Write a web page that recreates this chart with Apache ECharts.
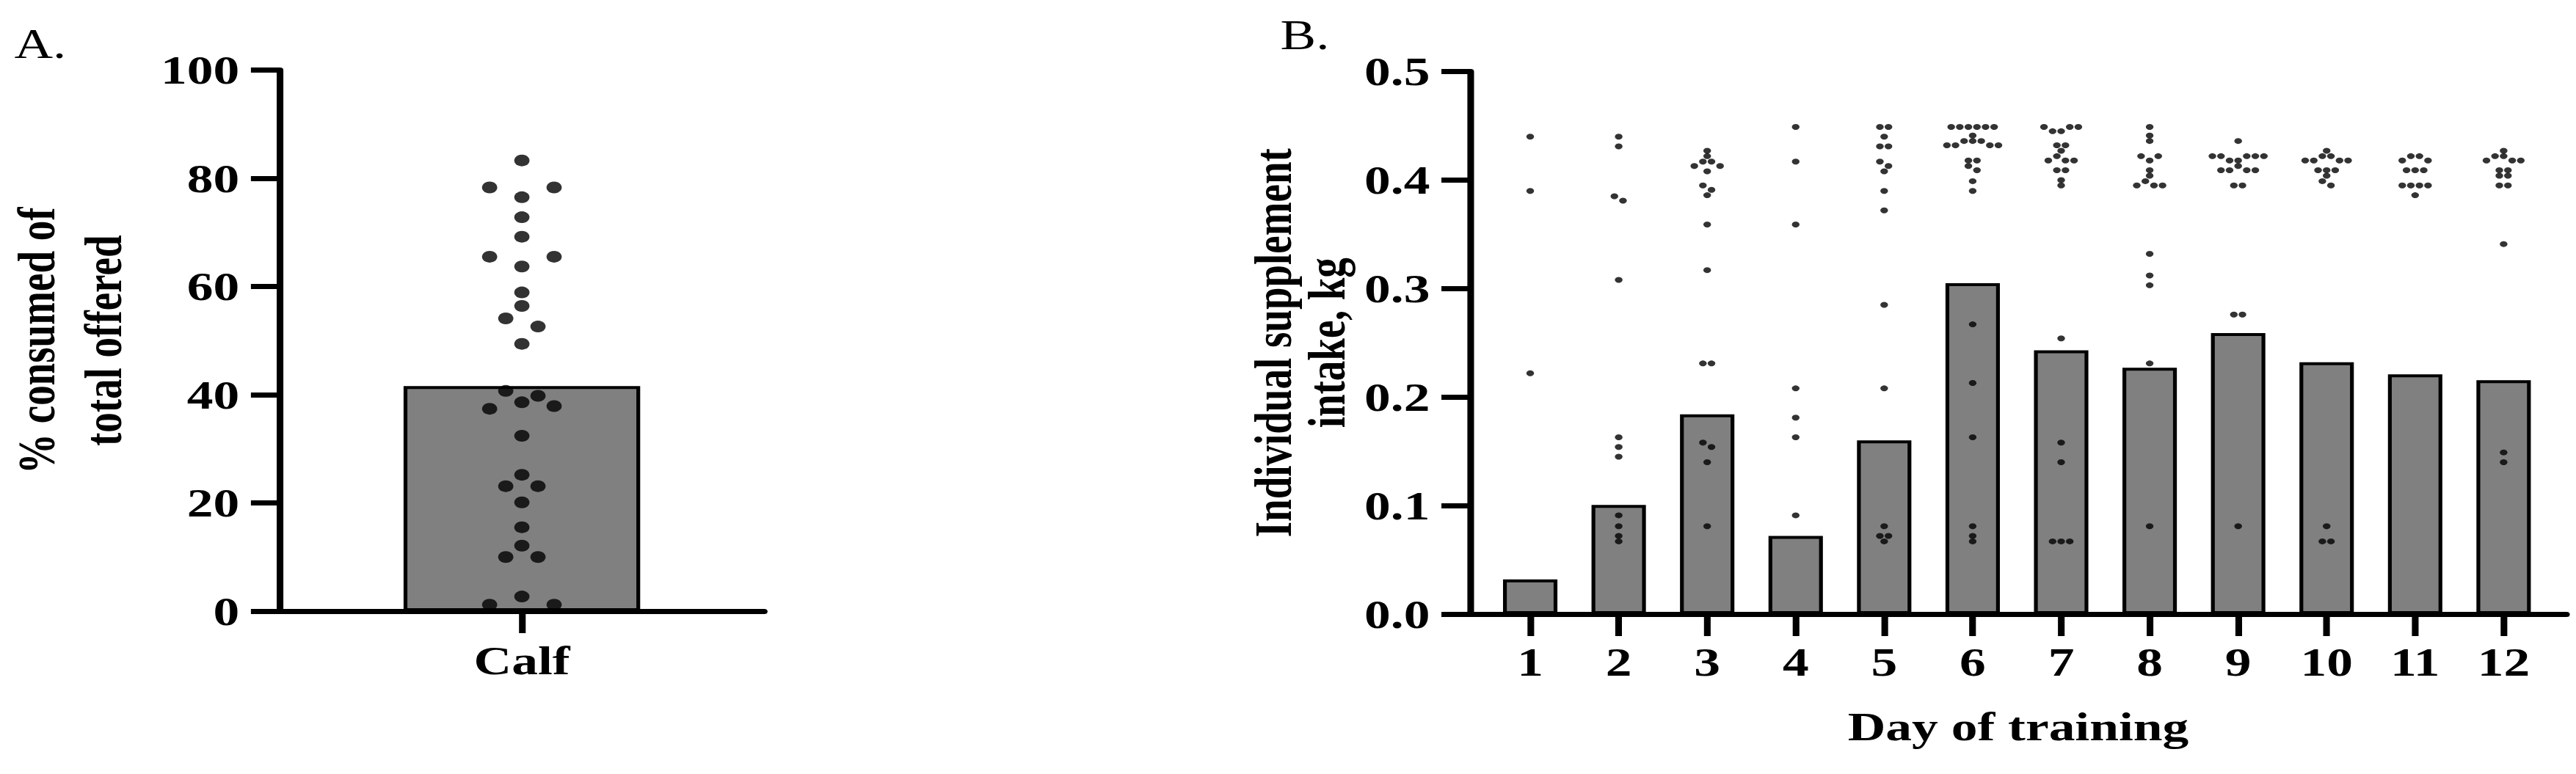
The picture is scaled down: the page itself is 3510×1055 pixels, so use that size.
<!DOCTYPE html>
<html>
<head>
<meta charset="utf-8">
<script src="https://cdn.jsdelivr.net/npm/echarts@6/dist/echarts.min.js"></script>
<style>
html,body{margin:0;padding:0;background:#fff;overflow:hidden;width:3510px;height:1055px}
#wrap{width:3510px;height:1055px;overflow:hidden}
#chart{width:2700px;height:1055px;transform:scaleX(1.3);transform-origin:0 0}
</style>
</head>
<body>
<div id="wrap"><div id="chart"></div></div>
<script>
// ---------------- data ----------------
const panelLetters = ['A.', 'B.'];

// Panel A
const calfCategories = ['Calf'];
const calfBarMean = [41.6];
const calfYTicks = [0, 20, 40, 60, 80, 100];
const calfDots = [83.3, 78.3, 78.3, 76.5, 72.8, 69.2, 65.5, 65.5, 63.7, 58.9, 56.4, 54.1, 52.6, 49.4,
  40.7, 39.8, 38.6, 37.9, 37.4, 32.4, 25.2, 23.1, 23.1, 20.1, 15.5, 12.1, 10.0, 10.0, 2.7, 1.2, 1.2];

// Panel B
const days = [1, 2, 3, 4, 5, 6, 7, 8, 9, 10, 11, 12];
const dayYTicks = [0, 0.1, 0.2, 0.3, 0.4, 0.5];
const dayBarMeans = [0.032, 0.1005, 0.184, 0.072, 0.160, 0.305, 0.243, 0.227, 0.259, 0.232, 0.221, 0.2155];
const dotsDay1 = [0.440, 0.390, 0.222];
const dotsDay2 = [0.440, 0.431, 0.385, 0.381, 0.308, 0.163, 0.154, 0.145, 0.091, 0.081, 0.072, 0.067];
const dotsDay3 = [0.427, 0.422, 0.417, 0.417, 0.413, 0.413, 0.408, 0.395, 0.391, 0.386, 0.359, 0.317, 0.231, 0.231, 0.158, 0.154, 0.140, 0.081];
const dotsDay4 = [0.449, 0.417, 0.359, 0.208, 0.181, 0.163, 0.091];
const dotsDay5 = [0.449, 0.449, 0.440, 0.431, 0.431, 0.417, 0.413, 0.408, 0.390, 0.372, 0.285, 0.208, 0.081, 0.072, 0.072, 0.067];
const dotsDay6 = [0.449, 0.449, 0.449, 0.449, 0.449, 0.449, 0.441, 0.436, 0.436, 0.436, 0.432, 0.432, 0.432, 0.432,
  0.418, 0.418, 0.413, 0.409, 0.399, 0.390, 0.267, 0.213, 0.163, 0.081, 0.072, 0.067];
const dotsDay7 = [0.449, 0.449, 0.449, 0.445, 0.445, 0.432, 0.432, 0.427, 0.422, 0.418, 0.418, 0.418, 0.409, 0.409, 0.400, 0.395,
  0.254, 0.158, 0.140, 0.067, 0.067, 0.067];
const dotsDay8 = [0.449, 0.441, 0.436, 0.422, 0.422, 0.418, 0.409, 0.404, 0.399, 0.395, 0.395, 0.395, 0.332, 0.312, 0.303, 0.231, 0.081];
const dotsDay9 = [0.436, 0.422, 0.422, 0.422, 0.422, 0.422, 0.418, 0.418, 0.413, 0.409, 0.409, 0.409, 0.409, 0.395, 0.395, 0.276, 0.276, 0.081];
const dotsDay10 = [0.427, 0.422, 0.422, 0.418, 0.418, 0.418, 0.418, 0.409, 0.409, 0.409, 0.404, 0.399, 0.395, 0.081, 0.067, 0.067];
const dotsDay11 = [0.422, 0.422, 0.418, 0.418, 0.409, 0.409, 0.409, 0.395, 0.395, 0.395, 0.395, 0.386];
const dotsDay12 = [0.427, 0.422, 0.422, 0.418, 0.418, 0.418, 0.409, 0.409, 0.404, 0.404, 0.395, 0.395, 0.341, 0.149, 0.140];
const dayDots = [dotsDay1, dotsDay2, dotsDay3, dotsDay4, dotsDay5, dotsDay6, dotsDay7, dotsDay8, dotsDay9, dotsDay10, dotsDay11, dotsDay12];

const titleA = '% consumed of\ntotal offered';
const titleBY = 'Individual supplement\nintake, kg';
const titleBX = 'Day of training';

// ---------------- layout / style ----------------
const FONT = "'Liberation Serif', 'Times New Roman', serif";
const gridA = {left: 293, top: 95.5, width: 508, height: 737.5};
const gridB = {left: 1540.8, top: 97.5, width: 1149.2, height: 739.5};
const xRangeA = [-1, 1];
const xRangeB = [0.32, 12.71];
const dotA = 16, dotB = 8;       // dot diameter (px)
const laneA = 33.8, laneB = 9;   // lane step (px)

// simple row-based beeswarm, computed in pixel space
function swarm(values, center, yPxPerUnit, xPxPerUnit, dot, lane) {
  const thresh = (dot - 1) / yPxPerUnit;
  const step = lane / xPxPerUnit;
  const sorted = values.slice().sort((a, b) => b - a);
  const rows = [];
  let cur = null;
  for (const v of sorted) {
    if (cur && cur.anchor - v < thresh) cur.pts.push(v);
    else { cur = {anchor: v, pts: [v]}; rows.push(cur); }
  }
  const out = [];
  for (const r of rows) {
    const n = r.pts.length;
    const mean = r.pts.reduce((s, v) => s + v, 0) / n;
    const ord = r.pts.slice().sort((a, b) => Math.abs(b - mean) - Math.abs(a - mean));
    const lanes = [];
    for (let i = 0; i < n; i++) lanes.push(i - (n - 1) / 2);
    lanes.sort((a, b) => Math.abs(a) - Math.abs(b) || a - b);
    ord.forEach((v, i) => out.push([center + lanes[i] * step, v]));
  }
  return out;
}

const yMinA = calfYTicks[0], yMaxA = calfYTicks[calfYTicks.length - 1];
const yMinB = dayYTicks[0], yMaxB = dayYTicks[dayYTicks.length - 1];
const yPxA = gridA.height / (yMaxA - yMinA);
const xPxA = gridA.width / (xRangeA[1] - xRangeA[0]);
const yPxB = gridB.height / (yMaxB - yMinB);
const xPxB = gridB.width / (xRangeB[1] - xRangeB[0]);

const calfCenters = calfCategories.map((c, i) => i);
const dotsAData = swarm(calfDots, calfCenters[0], yPxA, xPxA, dotA, laneA);
let dotsBData = [];
days.forEach((d, i) => { dotsBData = dotsBData.concat(swarm(dayDots[i], d, yPxB, xPxB, dotB, laneB)); });

const axisLine = {show: true, onZero: false, lineStyle: {color: '#000', width: 7}};
const axisTick = {show: true, length: 30, lineStyle: {color: '#000', width: 7}};
const labelStyle = {color: '#000', fontFamily: FONT, fontWeight: 'bold', fontSize: 55};
const nameStyle = {color: '#000', fontFamily: FONT, fontWeight: 'bold', fontSize: 55, lineHeight: 70};
const nameStyleB = Object.assign({}, nameStyle, {lineHeight: 56});

const chart = echarts.init(document.getElementById('chart'), null, {renderer: 'svg', width: 2700, height: 1055});
chart.setOption({
  backgroundColor: '#fff',
  animation: false,
  title: [
    {text: panelLetters[0], left: 15, top: 32, padding: 0,
     textStyle: {fontFamily: FONT, fontWeight: 'normal', fontSize: 56, color: '#000'}},
    {text: panelLetters[1], left: 1342, top: 20, padding: 0,
     textStyle: {fontFamily: FONT, fontWeight: 'normal', fontSize: 56, color: '#000'}}
  ],
  grid: [
    Object.assign({containLabel: false, outerBoundsMode: 'none'}, gridA),
    Object.assign({containLabel: false, outerBoundsMode: 'none'}, gridB)
  ],
  xAxis: [
    {type: 'value', gridIndex: 0, min: xRangeA[0], max: xRangeA[1], splitLine: {show: false},
     axisLine: axisLine, axisTick: Object.assign({customValues: calfCenters}, axisTick),
     axisLabel: Object.assign({customValues: calfCenters, margin: 40,
       formatter: v => calfCategories[Math.round(v)] || ''}, labelStyle)},
    {type: 'value', gridIndex: 1, min: xRangeB[0], max: xRangeB[1], splitLine: {show: false},
     axisLine: axisLine, axisTick: Object.assign({customValues: days}, axisTick),
     axisLabel: Object.assign({customValues: days, margin: 38, formatter: v => String(v)}, labelStyle),
     name: titleBX, nameLocation: 'middle', nameGap: 118, nameTextStyle: nameStyle}
  ],
  yAxis: [
    {type: 'value', gridIndex: 0, min: yMinA, max: yMaxA, interval: calfYTicks[1] - calfYTicks[0],
     splitLine: {show: false}, axisLine: axisLine, axisTick: axisTick,
     axisLabel: Object.assign({margin: 42}, labelStyle),
     name: titleA, nameLocation: 'middle', nameRotate: 90, nameGap: 150, nameTextStyle: nameStyle},
    {type: 'value', gridIndex: 1, min: yMinB, max: yMaxB, interval: dayYTicks[1] - dayYTicks[0],
     splitLine: {show: false}, axisLine: axisLine, axisTick: axisTick,
     axisLabel: Object.assign({margin: 42, formatter: v => v.toFixed(1)}, labelStyle),
     name: titleBY, nameLocation: 'middle', nameRotate: 90, nameGap: 122, nameTextStyle: nameStyleB}
  ],
  series: [
    {type: 'bar', xAxisIndex: 0, yAxisIndex: 0, barWidth: 248, z: 2,
     data: calfCenters.map((c, i) => [c, calfBarMean[i]]),
     itemStyle: {color: '#808080', borderColor: '#000', borderWidth: 4}},
    {type: 'scatter', xAxisIndex: 0, yAxisIndex: 0, symbol: 'circle', symbolSize: dotA, z: 3,
     data: dotsAData, itemStyle: {color: '#000'}},
    {type: 'bar', xAxisIndex: 1, yAxisIndex: 1, barWidth: 57, z: 2,
     data: days.map((d, i) => [d, dayBarMeans[i]]),
     itemStyle: {color: '#808080', borderColor: '#000', borderWidth: 4}},
    {type: 'scatter', xAxisIndex: 1, yAxisIndex: 1, symbol: 'circle', symbolSize: dotB, z: 3,
     data: dotsBData, itemStyle: {color: '#000'}}
  ]
});
</script>
</body>
</html>
